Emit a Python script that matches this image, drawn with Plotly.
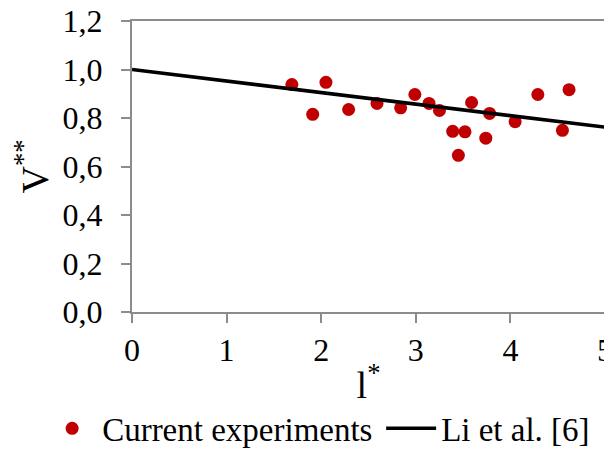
import plotly.graph_objects as go

exp_x = [1.69, 1.91, 2.05, 2.29, 2.59, 2.84, 2.99, 3.14, 3.25, 3.39, 3.45, 3.52, 3.59, 3.74, 3.78, 4.05, 4.29, 4.55, 4.62]
exp_y = [0.938, 0.815, 0.947, 0.835, 0.860, 0.842, 0.897, 0.860, 0.831, 0.745, 0.646, 0.743, 0.864, 0.717, 0.819, 0.785, 0.897, 0.749, 0.917]

# Li et al. [6] correlation line
li_x = [0, 5]
li_y = [1.0, 0.762]

x_ticks = [0, 1, 2, 3, 4, 5]
x_ticktext = ["0", "1", "2", "3", "4", "5"]
y_ticks = [0.0, 0.2, 0.4, 0.6, 0.8, 1.0, 1.2]
y_ticktext = ["0,0", "0,2", "0,4", "0,6", "0,8", "1,0", "1,2"]

FONT = "Liberation Serif, Times New Roman, serif"
AXIS_COLOR = "#8c8c8c"
FS = 32

fig = go.Figure()
fig.add_trace(go.Scatter(
    x=exp_x, y=exp_y, mode="markers", name="Current experiments",
    marker=dict(color="#C00000", size=13), legendwidth=274,
))
fig.add_trace(go.Scatter(
    x=li_x, y=li_y, mode="lines", name="Li et al. [6]",
    line=dict(color="black", width=3.5),
))

fig.update_layout(
    width=604, height=442,
    margin=dict(l=124, r=7, t=13, b=138, autoexpand=False),
    paper_bgcolor="white", plot_bgcolor="white",
    font=dict(family=FONT, size=FS, color="black"),
    showlegend=True,
    legend=dict(orientation="h", x=-0.19, xanchor="left", y=-0.40, yanchor="middle",
                font=dict(family=FONT, size=33, color="black"),
                itemwidth=50, tracegroupgap=0),
)
fig.update_xaxes(
    range=[0, 5], tickvals=x_ticks, ticktext=x_ticktext,
    showline=True, linecolor=AXIS_COLOR, linewidth=2, mirror=True,
    ticks="outside", ticklen=9, tickwidth=2, tickcolor=AXIS_COLOR,
    showgrid=False, zeroline=False, automargin=False, ticklabelstandoff=0,
    ticklabeloverflow="allow",
    title=dict(text="l<sup>*</sup>", standoff=4),
)
fig.update_yaxes(
    range=[0, 1.2], tickvals=y_ticks, ticktext=y_ticktext,
    showline=True, linecolor=AXIS_COLOR, linewidth=2, mirror=True,
    ticks="outside", ticklen=9, tickwidth=2, tickcolor=AXIS_COLOR,
    showgrid=False, zeroline=False, automargin=False, ticklabelstandoff=12,
    ticklabeloverflow="allow",
    title=dict(text="V<sup>**</sup>", standoff=25),
)

fig.write_html("out.html")
